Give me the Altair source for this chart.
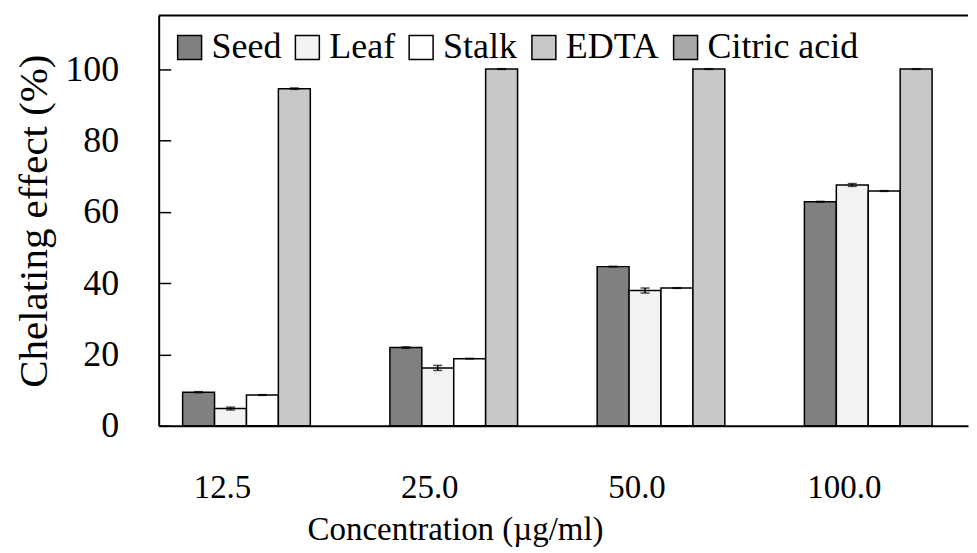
import altair as alt
import pandas as pd

concentrations = ["12.5", "25.0", "50.0", "100.0"]
series = ["Seed", "Leaf", "Stalk", "EDTA", "Citric acid"]

seed = [9.4, 21.9, 44.6, 62.8]
seed_err = [0.15, 0.2, 0.1, 0.1]
leaf = [4.8, 16.2, 37.9, 67.5]
leaf_err = [0.4, 0.7, 0.7, 0.4]
stalk = [8.6, 18.8, 38.6, 65.8]
stalk_err = [0.1, 0.1, 0.1, 0.1]
edta = [94.5, 100.0, 100.0, 100.0]
edta_err = [0.2, 0.1, 0.1, 0.1]
citric = [None, None, None, None]
citric_err = [None, None, None, None]

colors = ["#808080", "#f2f2f2", "#ffffff", "#c8c8c8", "#a9a9a9"]
y_ticks = [0, 20, 40, 60, 80, 100]
y_max = 115

values = [seed, leaf, stalk, edta, citric]
errors = [seed_err, leaf_err, stalk_err, edta_err, citric_err]
rows = []
for s, vals, errs in zip(series, values, errors):
    for c, v, e in zip(concentrations, vals, errs):
        if v is None:
            continue
        rows.append({"conc": c, "series": s, "value": v, "lo": v - e, "hi": v + e})
df = pd.DataFrame(rows)

FONT = "Liberation Serif"

x_enc = alt.X(
    "conc:N",
    sort=concentrations,
    title="Concentration (µg/ml)",
    scale=alt.Scale(paddingInner=0.23, paddingOuter=0.0674, align=0.857),
    axis=alt.Axis(
        labelFont=FONT, labelFontSize=33, labelColor="black", labelAngle=0,
        labelBaseline="alphabetic", labelPadding=72, labelOffset=-40,
        ticks=False, tickSize=0, domainColor="black", domainWidth=2,
        titleFont=FONT, titleFontSize=33, titleFontWeight="normal", titleColor="black",
        titleX=297, titleY=114, titleBaseline="alphabetic", titleAnchor="middle",
        zindex=1,
    ),
)
xo_enc = alt.XOffset(
    "series:N", sort=series,
    scale=alt.Scale(domain=series, paddingInner=0, paddingOuter=0),
)
y_enc = alt.Y(
    "value:Q",
    title="Chelating effect   (%)",
    scale=alt.Scale(domain=[0, y_max], nice=False),
    axis=alt.Axis(
        values=y_ticks, labelFont=FONT, labelFontSize=36, labelColor="black",
        labelPadding=40, ticks=False, tickSize=0,
        domainColor="black", domainWidth=2,
        grid=True, gridColor="black", gridWidth=1.5, gridDash=[12, 3000], gridOpacity=1,
        titleFont=FONT, titleFontSize=41, titleFontWeight="normal", titleColor="black",
        titlePadding=9, zindex=1,
    ),
)
color_enc = alt.Color(
    "series:N",
    scale=alt.Scale(domain=series, range=colors),
    legend=alt.Legend(
        title=None, orient="none", legendX=13, legendY=14, direction="horizontal",
        labelFont=FONT, labelFontSize=36, labelColor="black", labelOffset=4,
        symbolType="square", symbolSize=576, symbolStrokeColor="black",
        symbolStrokeWidth=1.5, symbolOpacity=1, columnPadding=8, padding=0,
        labelLimit=400,
    ),
)

base = alt.Chart(df)
bars = base.mark_bar(stroke="black", strokeWidth=1.5, opacity=1).encode(
    x=x_enc, xOffset=xo_enc, y=y_enc, color=color_enc
)
err_rule = base.mark_rule(color="black", strokeWidth=1.5).encode(
    x=alt.X("conc:N", sort=concentrations),
    xOffset=alt.XOffset("series:N", sort=series),
    y="lo:Q", y2="hi:Q",
)
err_lo = base.mark_tick(color="black", thickness=1.5, size=9, orient="horizontal").encode(
    x=alt.X("conc:N", sort=concentrations),
    xOffset=alt.XOffset("series:N", sort=series),
    y="lo:Q",
)
err_hi = base.mark_tick(color="black", thickness=1.5, size=9, orient="horizontal").encode(
    x=alt.X("conc:N", sort=concentrations),
    xOffset=alt.XOffset("series:N", sort=series),
    y="hi:Q",
)
top_line = alt.Chart(pd.DataFrame({"top": [y_max]})).mark_rule(
    color="black", strokeWidth=2
).encode(y="top:Q")

chart = (
    alt.layer(bars, err_rule, err_lo, err_hi, top_line)
    .properties(width=811, height=411, padding={"left": 6, "top": 6, "right": 0, "bottom": 0})
    .configure(background="white", font=FONT)
    .configure_view(stroke=None)
    .configure_legend(labelFont=FONT, labelFontSize=36, labelColor="black")
    .configure_axis(labelFont=FONT, titleFont=FONT)
)

chart.save("out.html", embed_options={"renderer": "svg", "actions": False})
